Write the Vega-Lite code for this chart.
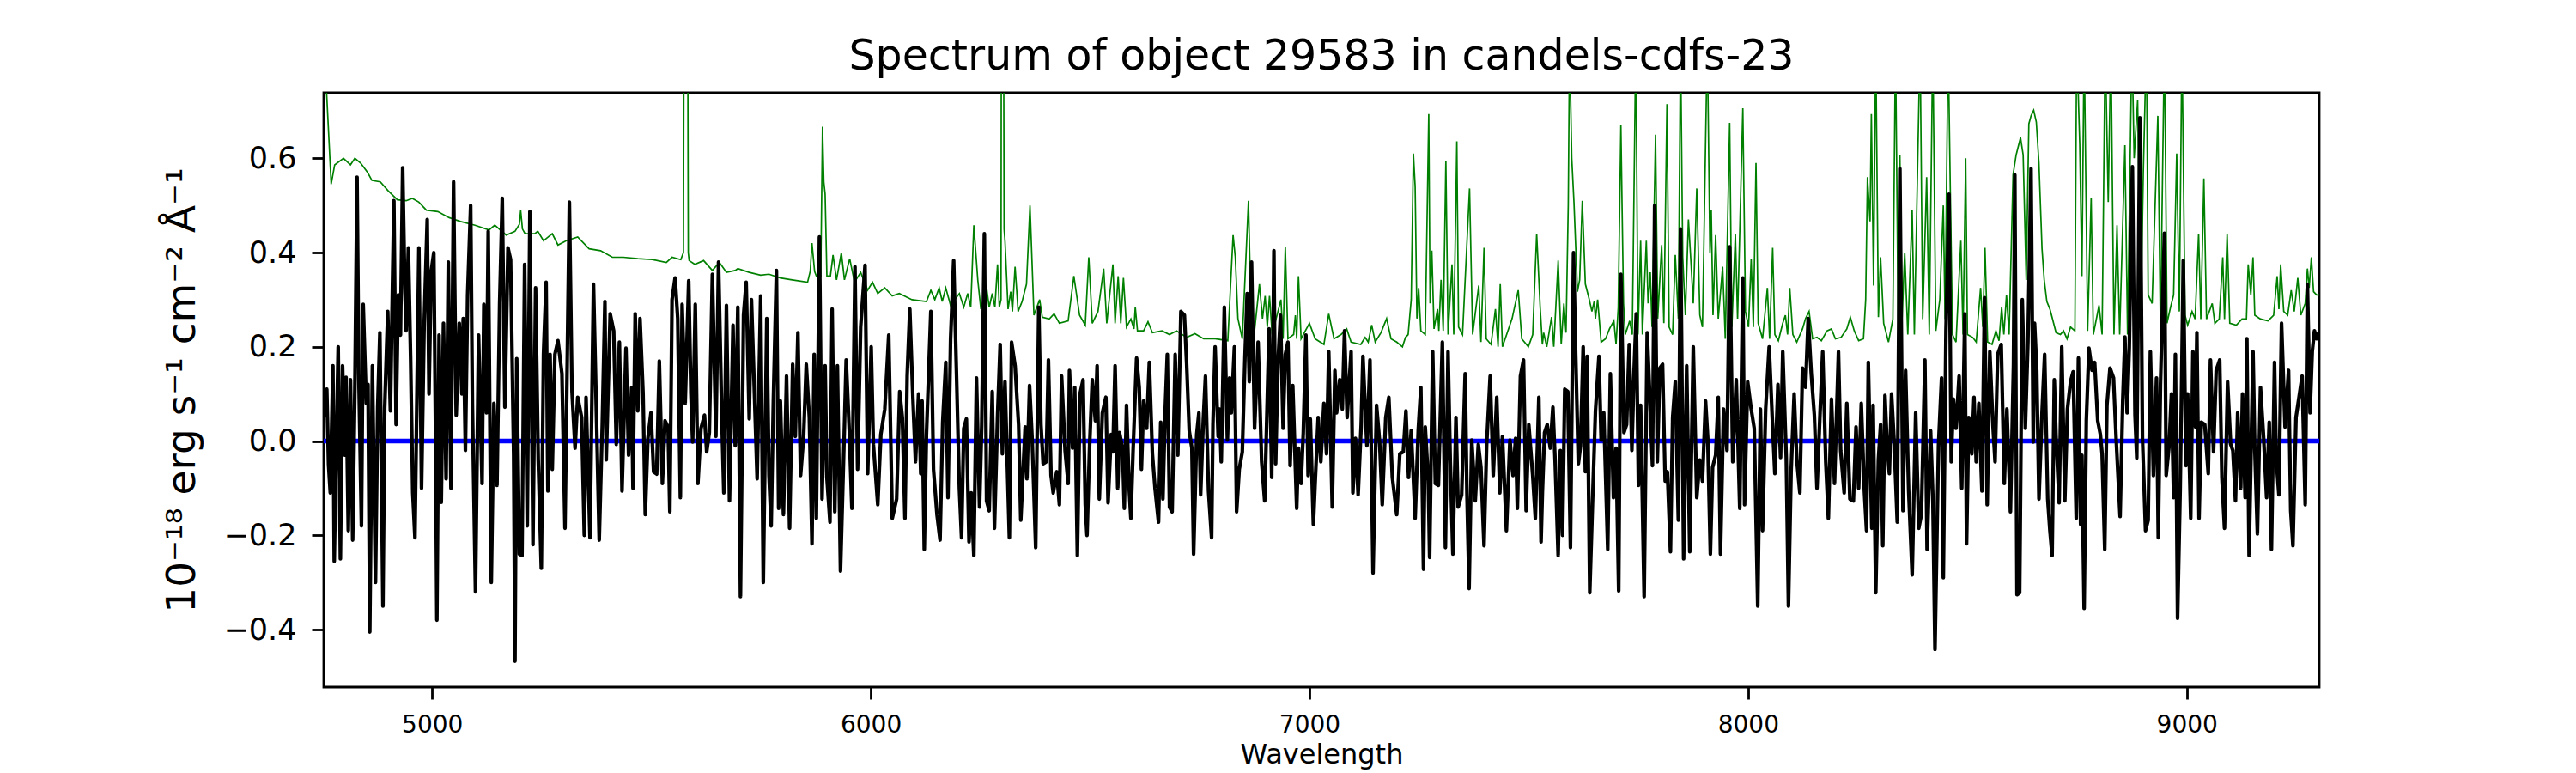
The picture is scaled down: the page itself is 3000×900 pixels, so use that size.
{
"$schema": "https://vega.github.io/schema/vega-lite/v6.json",
"width": 2324, "height": 692,
"autosize": {"type": "none"},
"padding": {"left": 377, "top": 108, "right": 299, "bottom": 100},
"background": "white",
"config": {"font": "DejaVu Sans", "view": {"stroke": "black", "strokeWidth": 2.8}},
"title": {"text": "Spectrum of object 29583 in candels-cdfs-23", "fontSize": 49, "fontWeight": "normal", "font": "DejaVu Sans", "color": "black", "baseline": "alphabetic", "offset": -22, "frame": "group", "anchor": "middle"},
"datasets": {
"zero": [{"w":4753,"f":0},{"w":9302,"f":0}],
"sky": [
{"w":4753,"f":0.95},{"w":4759,"f":0.75},{"w":4770,"f":0.545},{"w":4778,"f":0.586},{"w":4798,"f":0.6},{"w":4814,"f":0.586},{"w":4824,"f":0.6},{"w":4837,"f":0.59},{"w":4853,"f":0.57},{"w":4863,"f":0.553},{"w":4882,"f":0.55},{"w":4899,"f":0.532},{"w":4921,"f":0.512},{"w":4941,"f":0.51},{"w":4955,"f":0.515},{"w":4970,"f":0.507},{"w":4987,"f":0.49},{"w":5013,"f":0.487},{"w":5039,"f":0.474},{"w":5065,"f":0.466},{"w":5098,"f":0.458},{"w":5130,"f":0.448},{"w":5143,"f":0.458},{"w":5169,"f":0.437},{"w":5189,"f":0.445},{"w":5199,"f":0.46},{"w":5202,"f":0.489},{"w":5206,"f":0.45},{"w":5212,"f":0.44},{"w":5234,"f":0.44},{"w":5241,"f":0.445},{"w":5254,"f":0.425},{"w":5274,"f":0.44},{"w":5287,"f":0.416},{"w":5306,"f":0.425},{"w":5332,"f":0.433},{"w":5358,"f":0.408},{"w":5384,"f":0.404},{"w":5411,"f":0.39},{"w":5436,"f":0.39},{"w":5469,"f":0.387},{"w":5502,"f":0.385},{"w":5534,"f":0.379},{"w":5547,"f":0.39},{"w":5567,"f":0.385},{"w":5573,"f":0.4},{"w":5575,"f":1.2},{"w":5582,"f":1.2},{"w":5584,"f":0.4},{"w":5586,"f":0.383},{"w":5599,"f":0.375},{"w":5619,"f":0.383},{"w":5639,"f":0.362},{"w":5655,"f":0.379},{"w":5671,"f":0.358},{"w":5691,"f":0.362},
{"w":5697,"f":0.366},{"w":5723,"f":0.358},{"w":5749,"f":0.352},{"w":5768,"f":0.354},{"w":5794,"f":0.346},{"w":5821,"f":0.342},{"w":5856,"f":0.337},{"w":5862,"f":0.36},{"w":5866,"f":0.42},{"w":5872,"f":0.36},{"w":5876,"f":0.35},{"w":5886,"f":0.35},{"w":5890,"f":0.667},{"w":5893,"f":0.55},{"w":5896,"f":0.524},{"w":5900,"f":0.35},{"w":5908,"f":0.35},{"w":5914,"f":0.395},{"w":5922,"f":0.342},{"w":5933,"f":0.4},{"w":5940,"f":0.342},{"w":5952,"f":0.387},{"w":5963,"f":0.337},{"w":5977,"f":0.358},{"w":5993,"f":0.32},{"w":6004,"f":0.337},{"w":6016,"f":0.313},{"w":6032,"f":0.325},{"w":6049,"f":0.308},{"w":6065,"f":0.313},{"w":6094,"f":0.3},{"w":6127,"f":0.296},{"w":6137,"f":0.32},{"w":6146,"f":0.3},{"w":6156,"f":0.325},{"w":6163,"f":0.296},{"w":6171,"f":0.325},{"w":6182,"f":0.288},{"w":6202,"f":0.313},{"w":6212,"f":0.284},{"w":6221,"f":0.313},{"w":6228,"f":0.284},{"w":6235,"f":0.458},{"w":6244,"f":0.342},{"w":6251,"f":0.28},{"w":6264,"f":0.325},{"w":6270,"f":0.284},{"w":6277,"f":0.313},{"w":6283,"f":0.284},{"w":6289,"f":0.375},{"w":6293,"f":0.284},{"w":6297,"f":0.3},{"w":6298,"f":1.2},{"w":6302,"f":1.2},{"w":6304,"f":0.45},{"w":6306,"f":0.425},{"w":6313,"f":0.28},{"w":6319,"f":0.317},{"w":6323,"f":0.275},{"w":6329,"f":0.37},{"w":6336,"f":0.275},{"w":6345,"f":0.296},{"w":6355,"f":0.333},{"w":6363,"f":0.5},{"w":6372,"f":0.267},{"w":6385,"f":0.3},{"w":6391,"f":0.263},{"w":6407,"f":0.259},{"w":6418,"f":0.27},{"w":6430,"f":0.25},{"w":6450,"f":0.255},{"w":6463,"f":0.35},{"w":6476,"f":0.267},{"w":6489,"f":0.246},{"w":6497,"f":0.39},{"w":6505,"f":0.25},{"w":6518,"f":0.275},{"w":6531,"f":0.366},{"w":6538,"f":0.25},{"w":6552,"f":0.375},{"w":6557,"f":0.25},{"w":6564,"f":0.35},{"w":6570,"f":0.25},{"w":6576,"f":0.346},{"w":6583,"f":0.242},{"w":6593,"f":0.259},{"w":6600,"f":0.238},{"w":6603,"f":0.284},{"w":6608,"f":0.234},
{"w":6622,"f":0.234},{"w":6632,"f":0.253},{"w":6642,"f":0.23},{"w":6664,"f":0.234},{"w":6681,"f":0.226},{"w":6697,"f":0.234},{"w":6720,"f":0.22},{"w":6739,"f":0.228},{"w":6759,"f":0.217},{"w":6785,"f":0.217},{"w":6814,"f":0.213},{"w":6826,"f":0.437},{"w":6831,"f":0.39},{"w":6837,"f":0.26},{"w":6847,"f":0.217},{"w":6861,"f":0.51},{"w":6867,"f":0.267},{"w":6873,"f":0.217},{"w":6886,"f":0.333},{"w":6893,"f":0.26},{"w":6899,"f":0.308},{"w":6904,"f":0.242},{"w":6909,"f":0.308},{"w":6915,"f":0.226},{"w":6935,"f":0.3},{"w":6940,"f":0.217},{"w":6945,"f":0.412},{"w":6951,"f":0.217},{"w":6964,"f":0.226},{"w":6968,"f":0.267},{"w":6971,"f":0.217},{"w":6975,"f":0.35},{"w":6981,"f":0.217},{"w":7000,"f":0.25},{"w":7013,"f":0.217},{"w":7033,"f":0.205},{"w":7044,"f":0.27},{"w":7056,"f":0.217},{"w":7072,"f":0.226},{"w":7085,"f":0.238},{"w":7095,"f":0.21},{"w":7117,"f":0.205},{"w":7127,"f":0.22},{"w":7134,"f":0.21},{"w":7142,"f":0.246},{"w":7150,"f":0.21},{"w":7163,"f":0.23},{"w":7176,"f":0.26},{"w":7186,"f":0.217},{"w":7199,"f":0.21},{"w":7212,"f":0.2},{"w":7219,"f":0.22},{"w":7225,"f":0.226},{"w":7232,"f":0.3},{"w":7237,"f":0.61},{"w":7241,"f":0.54},{"w":7245,"f":0.26},{"w":7249,"f":0.325},{"w":7254,"f":0.234},{"w":7264,"f":0.226},{"w":7272,"f":0.694},{"w":7275,"f":0.292},{"w":7279,"f":0.404},{"w":7284,"f":0.238},{"w":7292,"f":0.28},{"w":7295,"f":0.234},{"w":7300,"f":0.342},{"w":7305,"f":0.234},{"w":7311,"f":0.594},{"w":7316,"f":0.226},{"w":7325,"f":0.375},{"w":7329,"f":0.226},{"w":7336,"f":0.636},{"w":7340,"f":0.242},{"w":7349,"f":0.226},{"w":7365,"f":0.536},{"w":7372,"f":0.226},{"w":7386,"f":0.33},{"w":7391,"f":0.21},{"w":7398,"f":0.41},{"w":7403,"f":0.217},{"w":7414,"f":0.205},{"w":7424,"f":0.28},{"w":7430,"f":0.2},{"w":7435,"f":0.333},{"w":7440,"f":0.2},{"w":7462,"f":0.26},{"w":7476,"f":0.32},{"w":7484,"f":0.217},{"w":7499,"f":0.2},{"w":7509,"f":0.226},{"w":7518,"f":0.44},{"w":7526,"f":0.284},
{"w":7531,"f":0.205},{"w":7534,"f":0.23},{"w":7541,"f":0.2},{"w":7552,"f":0.263},{"w":7557,"f":0.2},{"w":7567,"f":0.383},{"w":7574,"f":0.205},{"w":7580,"f":0.292},{"w":7585,"f":0.23},{"w":7590,"f":0.5},{"w":7593,"f":0.85},{"w":7598,"f":0.6},{"w":7603,"f":0.507},{"w":7611,"f":0.317},{"w":7616,"f":0.342},{"w":7622,"f":0.51},{"w":7629,"f":0.333},{"w":7637,"f":0.304},{"w":7644,"f":0.275},{"w":7649,"f":0.296},{"w":7652,"f":0.26},{"w":7657,"f":0.3},{"w":7665,"f":0.21},{"w":7675,"f":0.217},{"w":7684,"f":0.238},{"w":7694,"f":0.255},{"w":7699,"f":0.205},{"w":7704,"f":0.284},{"w":7710,"f":0.67},{"w":7716,"f":0.292},{"w":7720,"f":0.226},{"w":7730,"f":0.255},{"w":7736,"f":0.226},{"w":7744,"f":0.85},{"w":7749,"f":0.226},{"w":7755,"f":0.425},{"w":7759,"f":0.226},{"w":7768,"f":0.425},{"w":7772,"f":0.292},{"w":7777,"f":0.358},{"w":7781,"f":0.242},{"w":7789,"f":0.65},{"w":7794,"f":0.26},{"w":7803,"f":0.416},{"w":7808,"f":0.25},{"w":7815,"f":0.715},{"w":7820,"f":0.242},{"w":7828,"f":0.226},{"w":7834,"f":0.395},{"w":7841,"f":0.26},{"w":7846,"f":0.85},{"w":7851,"f":0.39},{"w":7857,"f":0.267},{"w":7864,"f":0.47},{"w":7870,"f":0.375},{"w":7875,"f":0.292},{"w":7883,"f":0.536},{"w":7890,"f":0.267},{"w":7896,"f":0.242},{"w":7907,"f":0.85},{"w":7913,"f":0.4},{"w":7916,"f":0.49},{"w":7920,"f":0.267},{"w":7926,"f":0.437},{"w":7932,"f":0.26},{"w":7942,"f":0.37},{"w":7948,"f":0.217},{"w":7958,"f":0.675},{"w":7963,"f":0.242},{"w":7971,"f":0.44},{"w":7976,"f":0.26},{"w":7988,"f":0.706},{"w":7994,"f":0.275},{"w":8001,"f":0.242},{"w":8007,"f":0.387},{"w":8012,"f":0.242},{"w":8018,"f":0.59},{"w":8023,"f":0.25},{"w":8033,"f":0.217},{"w":8044,"f":0.325},{"w":8049,"f":0.217},{"w":8056,"f":0.41},{"w":8061,"f":0.226},{"w":8069,"f":0.213},{"w":8079,"f":0.25},{"w":8085,"f":0.267},{"w":8090,"f":0.226},{"w":8095,"f":0.325},{"w":8102,"f":0.226},{"w":8111,"f":0.21},{"w":8124,"f":0.238},{"w":8131,"f":0.26},{"w":8139,"f":0.275},{"w":8147,"f":0.217},{"w":8157,"f":0.22},{"w":8167,"f":0.213},{"w":8180,"f":0.234},{"w":8190,"f":0.238},{"w":8199,"f":0.217},{"w":8212,"f":0.22},{"w":8225,"f":0.238},{"w":8233,"f":0.263},{"w":8242,"f":0.234},{"w":8252,"f":0.213},{"w":8263,"f":0.217},{"w":8268,"f":0.3},{"w":8272,"f":0.56},{"w":8278,"f":0.466},{"w":8281,"f":0.694},{"w":8286,"f":0.33},{"w":8291,"f":0.85},{"w":8297,"f":0.263},{"w":8302,"f":0.39},{"w":8309,"f":0.25},{"w":8320,"f":0.21},{"w":8330,"f":0.259},{"w":8336,"f":0.85},{"w":8342,"f":0.259},{"w":8346,"f":0.607},{"w":8351,"f":0.259},{"w":8357,"f":0.4},{"w":8364,"f":0.226},{"w":8374,"f":0.49},{"w":8379,"f":0.226},{"w":8392,"f":0.85},{"w":8398,"f":0.259},{"w":8407,"f":0.56},{"w":8413,"f":0.226},{"w":8421,"f":0.85},{"w":8428,"f":0.234},{"w":8437,"f":0.3},{"w":8445,"f":0.5},
{"w":8449,"f":0.259},{"w":8456,"f":0.85},{"w":8461,"f":0.53},{"w":8466,"f":0.226},{"w":8474,"f":0.21},{"w":8485,"f":0.425},{"w":8490,"f":0.226},{"w":8496,"f":0.6},{"w":8500,"f":0.226},{"w":8512,"f":0.22},{"w":8520,"f":0.21},{"w":8530,"f":0.325},{"w":8535,"f":0.242},{"w":8540,"f":0.41},{"w":8546,"f":0.21},{"w":8556,"f":0.205},{"w":8565,"f":0.234},{"w":8572,"f":0.213},{"w":8578,"f":0.284},{"w":8583,"f":0.226},{"w":8589,"f":0.31},{"w":8595,"f":0.226},{"w":8604,"f":0.565},{"w":8611,"f":0.607},{"w":8621,"f":0.644},{"w":8627,"f":0.607},{"w":8634,"f":0.342},{"w":8640,"f":0.673},{"w":8645,"f":0.69},{"w":8651,"f":0.702},{"w":8657,"f":0.677},{"w":8663,"f":0.59},{"w":8670,"f":0.408},{"w":8675,"f":0.342},{"w":8681,"f":0.296},{"w":8688,"f":0.28},{"w":8694,"f":0.259},{"w":8702,"f":0.23},{"w":8712,"f":0.226},{"w":8719,"f":0.234},{"w":8727,"f":0.217},{"w":8735,"f":0.242},{"w":8745,"f":0.234},{"w":8749,"f":0.85},{"w":8756,"f":0.63},{"w":8761,"f":0.35},{"w":8766,"f":0.85},{"w":8774,"f":0.234},{"w":8782,"f":0.516},{"w":8787,"f":0.226},{"w":8800,"f":0.288},{"w":8807,"f":0.226},{"w":8814,"f":0.85},{"w":8821,"f":0.507},{"w":8827,"f":0.85},{"w":8834,"f":0.226},{"w":8841,"f":0.458},{"w":8847,"f":0.226},{"w":8859,"f":0.628},{"w":8865,"f":0.226},{"w":8875,"f":0.85},{"w":8880,"f":0.6},{"w":8888,"f":0.723},{"w":8895,"f":0.259},{"w":8901,"f":0.574},{"w":8908,"f":0.85},{"w":8912,"f":0.31},{"w":8921,"f":0.292},{"w":8934,"f":0.69},{"w":8940,"f":0.242},{"w":8949,"f":0.85},{"w":8955,"f":0.25},{"w":8963,"f":0.284},{"w":8970,"f":0.31},{"w":8977,"f":0.61},{"w":8983,"f":0.275},{"w":8989,"f":0.85},{"w":8996,"f":0.267},{"w":9002,"f":0.246},{"w":9012,"f":0.275},{"w":9019,"f":0.259},{"w":9027,"f":0.44},{"w":9032,"f":0.259},{"w":9039,"f":0.557},{"w":9045,"f":0.259},{"w":9058,"f":0.292},{"w":9064,"f":0.25},{"w":9074,"f":0.259},{"w":9082,"f":0.39},{"w":9086,"f":0.259},{"w":9092,"f":0.44},{"w":9098,"f":0.25},{"w":9113,"f":0.246},{"w":9126,"f":0.259},{"w":9136,"f":0.259},{"w":9140,"f":0.375},{"w":9146,"f":0.31},{"w":9151,"f":0.39},{"w":9155,"f":0.267},{"w":9168,"f":0.259},{"w":9185,"f":0.255},{"w":9198,"f":0.267},{"w":9206,"f":0.35},{"w":9210,"f":0.28},{"w":9214,"f":0.375},{"w":9221,"f":0.275},{"w":9230,"f":0.267},{"w":9238,"f":0.32},{"w":9245,"f":0.275},{"w":9253,"f":0.346},{"w":9260,"f":0.267},{"w":9270,"f":0.292},{"w":9275,"f":0.366},{"w":9279,"f":0.325},{"w":9284,"f":0.39},{"w":9289,"f":0.317},{"w":9296,"f":0.31},{"w":9302,"f":0.31}
],
"flux": [
{"w":4753,"f":0.05},{"w":4755,"f":0.07},{"w":4760,"f":0.11},{"w":4764,"f":-0.05},{"w":4768,"f":-0.11},{"w":4774,"f":0.16},{"w":4777,"f":-0.255},{"w":4781,"f":-0.04},{"w":4786,"f":0.2},{"w":4791,"f":-0.25},{"w":4796,"f":0.16},{"w":4801,"f":-0.03},{"w":4804,"f":0.135},{"w":4809,"f":-0.19},{"w":4814,"f":0.13},{"w":4819,"f":-0.21},{"w":4824,"f":0.11},{"w":4829,"f":0.56},{"w":4833,"f":0.14},{"w":4839,"f":-0.18},{"w":4843,"f":0.29},{"w":4850,"f":0.08},{"w":4854,"f":0.12},{"w":4858,"f":-0.405},{"w":4864,"f":0.16},{"w":4871,"f":-0.3},{"w":4876,"f":0.07},{"w":4881,"f":0.23},{"w":4888,"f":-0.35},{"w":4892,"f":0.07},{"w":4899,"f":0.275},{"w":4905,"f":0.064},{"w":4913,"f":0.51},{"w":4918,"f":0.035},{"w":4923,"f":0.31},{"w":4928,"f":0.225},{"w":4933,"f":0.58},{"w":4938,"f":0.32},{"w":4941,"f":0.234},{"w":4946,"f":0.41},{"w":4951,"f":0.18},{"w":4956,"f":-0.11},{"w":4961,"f":-0.205},{"w":4970,"f":0.41},{"w":4976,"f":-0.1},{"w":4982,"f":0.25},{"w":4989,"f":0.47},{"w":4993,"f":0.1},{"w":4998,"f":0.36},{"w":5004,"f":0.4},{"w":5008,"f":0.01},{"w":5011,"f":-0.38},{"w":5016,"f":0.225},{"w":5021,"f":-0.13},{"w":5026,"f":0.25},{"w":5032,"f":-0.08},{"w":5037,"f":0.38},{"w":5043,"f":-0.1},{"w":5049,"f":0.55},{"w":5055,"f":0.055},{"w":5062,"f":0.25},{"w":5068,"f":0.1},{"w":5071,"f":0.26},{"w":5076,"f":-0.02},{"w":5081,"f":0.31},{"w":5088,"f":0.5},{"w":5092,"f":0.076},{"w":5099,"f":-0.32},{"w":5106,"f":0.225},{"w":5114,"f":-0.09},{"w":5118,"f":0.29},{"w":5124,"f":0.06},{"w":5128,"f":0.445},{"w":5135,"f":-0.3},{"w":5141,"f":0.08},{"w":5148,"f":-0.094},{"w":5154,"f":0.29},{"w":5160,"f":0.515},{"w":5166,"f":0.072},{"w":5173,"f":0.41},{"w":5179,"f":0.385},{"w":5186,"f":-0.03},{"w":5189,"f":-0.467},{"w":5193,"f":0.175},{"w":5199,"f":-0.24},{"w":5205,"f":-0.243},{"w":5211,"f":0.375},{"w":5217,"f":-0.18},{"w":5223,"f":0.487},{"w":5230,"f":-0.22},{"w":5236,"f":0.325},{"w":5242,"f":-0.04},{"w":5249,"f":-0.27},{"w":5254,"f":0.184},{"w":5260,"f":0.337},{"w":5264,"f":-0.106},{"w":5269,"f":0.184},{"w":5274,"f":-0.06},{"w":5280,"f":0.184},{"w":5287,"f":0.213},{"w":5296,"f":0.143},{"w":5303,"f":-0.185},{"w":5313,"f":0.507},{"w":5319,"f":0.105},{"w":5326,"f":-0.015},{"w":5332,"f":0.093},{"w":5341,"f":0.05},{"w":5347,"f":-0.2},{"w":5351,"f":0.093},{"w":5360,"f":-0.205},{"w":5368,"f":0.333},{"w":5375,"f":0.043},{"w":5381,"f":-0.21},{"w":5388,"f":0.035},{"w":5394,"f":0.296},{"w":5397,"f":-0.04},{"w":5406,"f":0.27},{"w":5414,"f":0.234},{"w":5420,"f":-0.007},{"w":5427,"f":0.21},{"w":5433,"f":-0.106},{"w":5442,"f":0.197},{"w":5448,"f":-0.03},{"w":5455,"f":0.114},{"w":5458,"f":-0.1},{"w":5463,"f":0.27},{"w":5469,"f":0.064},{"w":5474,"f":0.26},{"w":5481,"f":0.1},{"w":5486,"f":-0.156},{"w":5492,"f":0.006},{"w":5499,"f":0.06},{"w":5505,"f":-0.065},{"w":5512,"f":-0.07},{"w":5518,"f":0.17},{"w":5525,"f":-0.09},{"w":5531,"f":0.043},{"w":5538,"f":0.03},{"w":5542,"f":-0.15},{"w":5547,"f":0.3},{"w":5554,"f":0.346},{"w":5560,"f":0.26},{"w":5566,"f":-0.12},{"w":5570,"f":0.29},{"w":5577,"f":0.08},{"w":5585,"f":0.34},{"w":5590,"f":0.1},{"w":5594,"f":-0.002},{"w":5600,"f":0.29},{"w":5606,"f":-0.09},{"w":5613,"f":0.027},{"w":5621,"f":0.055},{"w":5626,"f":-0.023},{"w":5632,"f":0.018},{"w":5639,"f":0.354},{"w":5647,"f":0.01},{"w":5653,"f":0.38},{"w":5660,"f":0.07},{"w":5665,"f":-0.11},{"w":5671,"f":0.288},{"w":5678,"f":-0.127},{"w":5686,"f":0.246},{"w":5691,"f":-0.01},
{"w":5697,"f":0.284},{"w":5703,"f":-0.33},{"w":5710,"f":0.267},{"w":5716,"f":0.337},{"w":5723,"f":0.047},{"w":5728,"f":0.3},{"w":5734,"f":0.126},{"w":5741,"f":-0.08},{"w":5749,"f":0.308},{"w":5755,"f":-0.3},{"w":5763,"f":0.26},{"w":5768,"f":-0.073},{"w":5773,"f":-0.18},{"w":5778,"f":0.085},{"w":5785,"f":0.362},{"w":5790,"f":-0.143},{"w":5794,"f":0.085},{"w":5801,"f":-0.156},{"w":5808,"f":0.138},{"w":5815,"f":-0.185},{"w":5822,"f":0.163},{"w":5828,"f":0.01},{"w":5834,"f":0.23},{"w":5840,"f":-0.073},{"w":5847,"f":0.01},{"w":5853,"f":0.163},{"w":5860,"f":0.05},{"w":5866,"f":-0.218},{"w":5871,"f":0.184},{"w":5876,"f":-0.164},{"w":5883,"f":0.433},{"w":5889,"f":-0.123},{"w":5896,"f":0.16},{"w":5900,"f":-0.077},{"w":5907,"f":-0.172},{"w":5912,"f":0.28},{"w":5918,"f":-0.15},{"w":5924,"f":0.16},{"w":5931,"f":-0.276},{"w":5938,"f":-0.04},{"w":5944,"f":0.172},{"w":5951,"f":0.022},{"w":5957,"f":-0.143},{"w":5964,"f":0.37},{"w":5970,"f":-0.06},{"w":5977,"f":0.242},{"w":5987,"f":0.373},{"w":5993,"f":-0.069},{"w":6001,"f":0.2},{"w":6006,"f":-0.007},{"w":6016,"f":-0.135},{"w":6023,"f":0.014},{"w":6032,"f":0.068},{"w":6041,"f":0.225},{"w":6049,"f":-0.164},{"w":6059,"f":-0.123},{"w":6066,"f":0.105},{"w":6072,"f":0.05},{"w":6078,"f":-0.164},{"w":6083,"f":0.138},{"w":6089,"f":0.28},{"w":6096,"f":0.093},{"w":6102,"f":-0.044},{"w":6109,"f":0.1},{"w":6114,"f":-0.069},{"w":6117,"f":0.085},{"w":6122,"f":-0.23},{"w":6127,"f":0.014},{"w":6137,"f":0.275},{"w":6143,"f":-0.06},{"w":6151,"f":-0.156},{"w":6158,"f":-0.21},{"w":6164,"f":0.04},{"w":6171,"f":0.167},{"w":6176,"f":-0.12},{"w":6182,"f":0.217},{"w":6189,"f":0.383},{"w":6195,"f":0.16},{"w":6202,"f":-0.1},{"w":6207,"f":-0.205},{"w":6212,"f":0.027},{"w":6218,"f":0.047},{"w":6224,"f":-0.214},{"w":6229,"f":-0.11},{"w":6235,"f":-0.243},{"w":6241,"f":0.134},{"w":6248,"f":-0.14},{"w":6253,"f":0.035},{"w":6259,"f":0.44},{"w":6264,"f":-0.127},{"w":6270,"f":-0.148},{"w":6277,"f":0.105},{"w":6282,"f":-0.185},{"w":6289,"f":0.05},{"w":6295,"f":0.205},{"w":6300,"f":-0.027},{"w":6306,"f":0.126},{"w":6316,"f":-0.205},{"w":6321,"f":0.21},{"w":6329,"f":0.16},{"w":6337,"f":0.035},{"w":6342,"f":-0.168},{"w":6352,"f":0.03},{"w":6356,"f":-0.08},{"w":6362,"f":0.118},{"w":6368,"f":0.002},{"w":6376,"f":-0.226},{"w":6383,"f":0.284},{"w":6388,"f":0.035},{"w":6393,"f":-0.048},{"w":6400,"f":-0.044},{"w":6405,"f":0.172},{"w":6411,"f":-0.073},{"w":6416,"f":-0.11},{"w":6424,"f":-0.065},{"w":6430,"f":-0.135},{"w":6435,"f":0.138},{"w":6443,"f":-0.02},{"w":6450,"f":-0.09},{"w":6453,"f":0.15},{"w":6460,"f":-0.015},{"w":6465,"f":0.114},{"w":6471,"f":-0.243},{"w":6477,"f":0.1},{"w":6484,"f":0.13},{"w":6489,"f":-0.135},{"w":6493,"f":-0.2},{"w":6499,"f":-0.007},{"w":6505,"f":0.13},{"w":6512,"f":0.043},{"w":6516,"f":0.16},{"w":6521,"f":-0.123},{"w":6528,"f":0.06},{"w":6536,"f":0.093},{"w":6541,"f":-0.131},{"w":6548,"f":0.014},{"w":6552,"f":-0.023},{"w":6557,"f":0.16},{"w":6563,"f":-0.1},{"w":6567,"f":0.018},{"w":6574,"f":-0.015},{"w":6578,"f":-0.143},{"w":6583,"f":0.076},{"w":6589,"f":-0.1},{"w":6593,"f":-0.164},{"w":6598,"f":-0.02},{"w":6606,"f":0.176},
{"w":6612,"f":0.114},{"w":6617,"f":-0.06},{"w":6622,"f":0.085},{"w":6629,"f":0.027},{"w":6635,"f":0.167},{"w":6642,"f":-0.027},{"w":6648,"f":-0.1},{"w":6656,"f":-0.172},{"w":6661,"f":0.04},{"w":6666,"f":-0.123},{"w":6671,"f":0.06},{"w":6676,"f":0.184},{"w":6681,"f":-0.14},{"w":6687,"f":-0.15},{"w":6694,"f":0.184},{"w":6700,"f":-0.03},{"w":6707,"f":0.275},{"w":6715,"f":0.267},{"w":6720,"f":0.167},{"w":6726,"f":0.022},{"w":6732,"f":-0.015},{"w":6736,"f":-0.24},{"w":6743,"f":0.014},{"w":6748,"f":0.06},{"w":6752,"f":-0.114},{"w":6758,"f":0.043},{"w":6763,"f":0.138},{"w":6770,"f":-0.106},{"w":6777,"f":-0.205},{"w":6780,"f":0.035},{"w":6785,"f":0.2},{"w":6792,"f":0.01},{"w":6795,"f":0.068},{"w":6799,"f":-0.044},{"w":6806,"f":0.284},{"w":6813,"f":0.002},{"w":6818,"f":0.134},{"w":6822,"f":0.06},{"w":6829,"f":0.2},{"w":6834,"f":-0.15},{"w":6840,"f":-0.06},{"w":6847,"f":-0.023},{"w":6853,"f":0.176},{"w":6858,"f":0.313},{"w":6863,"f":0.126},{"w":6868,"f":0.38},{"w":6875,"f":0.027},{"w":6883,"f":0.21},{"w":6891,"f":-0.044},{"w":6898,"f":-0.127},{"w":6908,"f":0.238},{"w":6914,"f":-0.077},{"w":6919,"f":0.404},{"w":6923,"f":-0.048},{"w":6928,"f":0.16},{"w":6934,"f":0.267},{"w":6940,"f":0.027},{"w":6945,"f":0.184},{"w":6951,"f":0.21},{"w":6956,"f":-0.052},{"w":6962,"f":0.118},{"w":6971,"f":-0.143},{"w":6975,"f":-0.015},{"w":6981,"f":-0.09},{"w":6986,"f":0.018},{"w":6992,"f":0.225},{"w":6997,"f":-0.073},{"w":7002,"f":0.047},{"w":7009,"f":-0.177},{"w":7013,"f":-0.09},{"w":7020,"f":0.05},{"w":7026,"f":-0.044},{"w":7033,"f":0.08},{"w":7039,"f":-0.027},{"w":7044,"f":0.19},{"w":7052,"f":-0.14},{"w":7058,"f":0.15},{"w":7062,"f":0.06},{"w":7069,"f":0.13},{"w":7075,"f":0.068},{"w":7080,"f":0.234},{"w":7086,"f":0.05},{"w":7095,"f":0.19},{"w":7099,"f":-0.11},{"w":7105,"f":0.006},{"w":7111,"f":-0.114},{"w":7118,"f":0.035},{"w":7122,"f":0.18},{"w":7131,"f":-0.01},{"w":7138,"f":0.172},{"w":7145,"f":-0.28},{"w":7153,"f":0.076},{"w":7160,"f":-0.002},{"w":7166,"f":-0.135},{"w":7174,"f":0.05},{"w":7181,"f":0.093},{"w":7189,"f":-0.077},{"w":7199,"f":-0.156},{"w":7206,"f":-0.027},{"w":7214,"f":-0.023},{"w":7220,"f":0.064},{"w":7226,"f":-0.077},{"w":7232,"f":0.022},{"w":7241,"f":-0.164},{"w":7248,"f":0.022},{"w":7254,"f":0.114},{"w":7260,"f":-0.272},{"w":7264,"f":0.03},{"w":7271,"f":-0.085},{"w":7274,"f":-0.247},{"w":7281,"f":0.19},{"w":7287,"f":-0.09},{"w":7294,"f":-0.094},{"w":7303,"f":0.21},{"w":7310,"f":-0.226},{"w":7316,"f":0.19},{"w":7321,"f":-0.04},{"w":7327,"f":-0.24},{"w":7334,"f":0.05},{"w":7339,"f":-0.14},{"w":7347,"f":-0.114},{"w":7355,"f":0.143},{"w":7359,"f":-0.11},{"w":7364,"f":-0.313},{"w":7370,"f":0.002},{"w":7378,"f":-0.127},{"w":7385,"f":-0.007},{"w":7391,"f":-0.056},{"w":7398,"f":-0.222},{"w":7404,"f":-0.007},{"w":7412,"f":0.138},{"w":7419,"f":-0.073},{"w":7427,"f":0.093},{"w":7434,"f":-0.11},{"w":7440,"f":0.01},{"w":7449,"f":-0.19},{"w":7457,"f":0.002},{"w":7464,"f":-0.073},{"w":7470,"f":0.006},{"w":7474,"f":-0.143},{"w":7481,"f":0.138},{"w":7488,"f":0.172},{"w":7494,"f":-0.148},{"w":7500,"f":0.035},{"w":7509,"f":-0.073},{"w":7515,"f":-0.164},{"w":7523,"f":0.093},{"w":7528,"f":-0.214},
{"w":7531,"f":-0.11},{"w":7536,"f":0.018},{"w":7542,"f":0.035},{"w":7549,"f":-0.015},{"w":7555,"f":0.072},{"w":7560,"f":-0.04},{"w":7567,"f":-0.243},{"w":7572,"f":-0.02},{"w":7577,"f":-0.2},{"w":7582,"f":0.11},{"w":7589,"f":0.105},{"w":7595,"f":-0.226},{"w":7602,"f":0.4},{"w":7607,"f":0.184},{"w":7613,"f":-0.048},{"w":7618,"f":-0.01},{"w":7624,"f":0.2},{"w":7629,"f":-0.065},{"w":7633,"f":0.18},{"w":7639,"f":-0.322},{"w":7645,"f":-0.14},{"w":7652,"f":0.064},{"w":7660,"f":0.18},{"w":7665,"f":0.002},{"w":7671,"f":0.06},{"w":7680,"f":-0.23},{"w":7686,"f":0.143},{"w":7693,"f":-0.12},{"w":7699,"f":-0.015},{"w":7705,"f":-0.318},{"w":7710,"f":0.354},{"w":7717,"f":0.018},{"w":7723,"f":0.035},{"w":7729,"f":0.205},{"w":7735,"f":-0.02},{"w":7740,"f":0.147},{"w":7745,"f":0.27},{"w":7750,"f":-0.094},{"w":7755,"f":0.076},{"w":7763,"f":-0.33},{"w":7770,"f":0.23},{"w":7776,"f":0.093},{"w":7782,"f":-0.052},{"w":7787,"f":0.5},{"w":7793,"f":-0.044},{"w":7799,"f":0.155},{"w":7805,"f":0.163},{"w":7811,"f":-0.085},{"w":7816,"f":-0.065},{"w":7823,"f":-0.235},{"w":7828,"f":0.05},{"w":7834,"f":0.126},{"w":7841,"f":-0.168},{"w":7846,"f":0.45},{"w":7853,"f":-0.25},{"w":7860,"f":0.16},{"w":7867,"f":-0.235},{"w":7875,"f":0.2},{"w":7883,"f":-0.12},{"w":7890,"f":-0.04},{"w":7896,"f":-0.085},{"w":7903,"f":0.085},{"w":7908,"f":0.006},{"w":7914,"f":-0.24},{"w":7919,"f":-0.056},{"w":7926,"f":-0.03},{"w":7932,"f":0.093},{"w":7937,"f":-0.24},{"w":7944,"f":0.068},{"w":7952,"f":-0.02},{"w":7958,"f":0.412},{"w":7965,"f":-0.044},{"w":7973,"f":0.13},{"w":7981,"f":-0.143},{"w":7988,"f":0.346},{"w":7992,"f":-0.135},{"w":7999,"f":0.126},{"w":8007,"f":0.068},{"w":8014,"f":0.027},{"w":8022,"f":-0.35},{"w":8028,"f":0.068},{"w":8033,"f":-0.19},{"w":8040,"f":0.068},{"w":8048,"f":0.2},{"w":8055,"f":0.05},{"w":8061,"f":-0.069},{"w":8068,"f":0.12},{"w":8074,"f":-0.035},{"w":8079,"f":0.19},{"w":8087,"f":-0.035},{"w":8092,"f":-0.35},{"w":8098,"f":-0.065},{"w":8105,"f":0.1},{"w":8111,"f":-0.04},{"w":8118,"f":-0.11},{"w":8124,"f":0.155},{"w":8131,"f":0.114},{"w":8137,"f":0.26},{"w":8144,"f":0.143},{"w":8151,"f":0.055},{"w":8157,"f":-0.1},{"w":8164,"f":0.06},{"w":8170,"f":0.19},{"w":8177,"f":-0.044},{"w":8183,"f":-0.164},{"w":8190,"f":0.089},{"w":8197,"f":-0.09},{"w":8206,"f":0.19},{"w":8211,"f":-0.02},{"w":8219,"f":-0.11},{"w":8225,"f":0.08},{"w":8232,"f":-0.123},{"w":8240,"f":-0.127},{"w":8246,"f":0.03},{"w":8252,"f":-0.1},{"w":8258,"f":0.08},{"w":8265,"f":-0.106},{"w":8270,"f":-0.19},{"w":8274,"f":0.167},{"w":8282,"f":-0.185},{"w":8285,"f":0.076},{"w":8291,"f":-0.322},{"w":8297,"f":-0.04},{"w":8302,"f":0.035},{"w":8307,"f":-0.222},{"w":8312,"f":0.097},{"w":8317,"f":-0.01},{"w":8322,"f":-0.069},{"w":8327,"f":0.1},{"w":8333,"f":-0.003},{"w":8340,"f":-0.172},{"w":8346,"f":0.578},{"w":8353,"f":-0.148},{"w":8359,"f":0.15},{"w":8366,"f":-0.106},{"w":8374,"f":-0.284},{"w":8382,"f":0.06},{"w":8389,"f":-0.185},{"w":8395,"f":-0.156},{"w":8403,"f":0.172},{"w":8408,"f":-0.23},{"w":8416,"f":0.022},{"w":8421,"f":-0.114},{"w":8426,"f":-0.442},{"w":8434,"f":-0.01},{"w":8441,"f":0.134},
{"w":8445,"f":-0.29},{"w":8451,"f":0.234},{"w":8458,"f":0.524},{"w":8463,"f":-0.044},{"w":8468,"f":0.089},{"w":8474,"f":0.027},{"w":8481,"f":0.138},{"w":8487,"f":-0.1},{"w":8494,"f":0.27},{"w":8498,"f":-0.218},{"w":8503,"f":0.05},{"w":8510,"f":-0.027},{"w":8515,"f":0.093},{"w":8520,"f":-0.044},{"w":8526,"f":0.08},{"w":8533,"f":-0.106},{"w":8539,"f":0.304},{"w":8545,"f":-0.135},{"w":8551,"f":0.19},{"w":8558,"f":0.035},{"w":8563,"f":-0.044},{"w":8569,"f":0.184},{"w":8577,"f":0.205},{"w":8584,"f":-0.09},{"w":8590,"f":0.068},{"w":8598,"f":-0.15},{"w":8605,"f":0.163},{"w":8608,"f":0.565},{"w":8613,"f":-0.326},{"w":8619,"f":-0.322},{"w":8625,"f":0.3},{"w":8632,"f":0.027},{"w":8638,"f":0.213},{"w":8645,"f":0.578},{"w":8650,"f":-0.002},{"w":8653,"f":0.25},{"w":8658,"f":0.15},{"w":8663,"f":-0.123},{"w":8670,"f":0.06},{"w":8676,"f":0.184},{"w":8683,"f":-0.123},{"w":8688,"f":-0.19},{"w":8693,"f":-0.243},{"w":8698,"f":0.13},{"w":8702,"f":0.01},{"w":8709,"f":-0.131},{"w":8715,"f":0.2},{"w":8722,"f":-0.127},{"w":8728,"f":0.068},{"w":8735,"f":0.126},{"w":8741,"f":0.147},{"w":8748,"f":-0.164},{"w":8753,"f":0.176},{"w":8758,"f":-0.177},{"w":8761,"f":-0.03},{"w":8766,"f":-0.355},{"w":8771,"f":0.043},{"w":8777,"f":0.197},{"w":8784,"f":0.15},{"w":8790,"f":0.167},{"w":8797,"f":0.043},{"w":8803,"f":0.014},{"w":8807,"f":-0.027},{"w":8813,"f":-0.23},{"w":8818,"f":0.076},{"w":8825,"f":0.155},{"w":8833,"f":0.134},{"w":8839,"f":0.005},{"w":8848,"f":-0.16},{"w":8854,"f":0.085},{"w":8859,"f":0.221},{"w":8864,"f":0.06},{"w":8869,"f":0.2},{"w":8876,"f":0.582},{"w":8882,"f":0.055},{"w":8886,"f":-0.036},{"w":8893,"f":0.686},{"w":8899,"f":0.005},{"w":8906,"f":-0.19},{"w":8912,"f":-0.168},{"w":8917,"f":0.19},{"w":8924,"f":-0.073},{"w":8931,"f":0.134},{"w":8935,"f":-0.205},{"w":8940,"f":0.118},{"w":8949,"f":0.441},{"w":8953,"f":-0.073},{"w":8960,"f":-0.007},{"w":8965,"f":0.1},{"w":8970,"f":-0.12},{"w":8974,"f":0.184},{"w":8979,"f":-0.376},{"w":8985,"f":-0.1},{"w":8992,"f":0.383},{"w":8998,"f":-0.052},{"w":9002,"f":0.1},{"w":9009,"f":-0.164},{"w":9014,"f":0.19},{"w":9020,"f":0.03},{"w":9023,"f":0.23},{"w":9028,"f":-0.164},{"w":9033,"f":0.04},{"w":9041,"f":0.035},{"w":9049,"f":-0.069},{"w":9054,"f":0.172},{"w":9061,"f":-0.023},{"w":9067,"f":0.15},{"w":9075,"f":0.172},{"w":9080,"f":-0.077},{"w":9086,"f":-0.185},{"w":9093,"f":0.126},{"w":9100,"f":-0.007},{"w":9105,"f":-0.02},{"w":9111,"f":-0.127},{"w":9116,"f":0.06},{"w":9123,"f":-0.1},{"w":9127,"f":0.1},{"w":9133,"f":-0.12},{"w":9137,"f":0.217},{"w":9142,"f":-0.243},{"w":9151,"f":0.19},{"w":9155,"f":-0.015},{"w":9161,"f":-0.197},{"w":9168,"f":0.114},{"w":9175,"f":0.01},{"w":9182,"f":-0.12},{"w":9188,"f":0.04},{"w":9193,"f":-0.23},{"w":9200,"f":0.167},{"w":9204,"f":-0.04},{"w":9210,"f":-0.114},{"w":9216,"f":0.25},{"w":9224,"f":0.03},{"w":9232,"f":0.15},{"w":9237,"f":-0.148},{"w":9242,"f":-0.222},{"w":9249,"f":0.05},{"w":9257,"f":0.1},{"w":9263,"f":0.138},{"w":9270,"f":-0.135},{"w":9275,"f":0.333},{"w":9281,"f":0.06},{"w":9286,"f":0.19},{"w":9291,"f":0.234},{"w":9296,"f":0.217},{"w":9301,"f":0.23}
]
},
"layer": [
{"data": {"name": "sky"},
 "mark": {"type": "line", "color": "#008000", "strokeWidth": 1.7, "clip": true},
 "encoding": {
  "x": {"field": "w", "type": "quantitative", "scale": {"domain": [4753, 9302], "nice": false, "zero": false},
   "axis": {"title": "Wavelength", "values": [5000, 6000, 7000, 8000, 9000], "format": "d", "labelFontSize": 28, "titleFontSize": 32, "titleFontWeight": "normal", "labelColor": "black", "titleColor": "black", "tickColor": "black", "tickWidth": 2.8, "tickSize": 14, "labelPadding": 16, "titlePadding": 5, "domain": false, "grid": false, "labelFont": "DejaVu Sans", "titleFont": "DejaVu Sans"}},
  "y": {"field": "f", "type": "quantitative", "scale": {"domain": [-0.522, 0.739], "nice": false, "zero": false},
   "axis": {"title": "10⁻¹⁸ erg s⁻¹ cm⁻² Å⁻¹", "values": [-0.4, -0.2, 0, 0.2, 0.4, 0.6], "format": ".1f", "labelFontSize": 35, "titleFontSize": 47, "titleFontWeight": "normal", "labelColor": "black", "titleColor": "black", "tickColor": "black", "tickWidth": 2.8, "tickSize": 14, "labelPadding": 18, "titlePadding": 24, "domain": false, "grid": false, "labelFont": "DejaVu Sans", "titleFont": "DejaVu Sans"}}
 }},
{"data": {"name": "zero"},
 "mark": {"type": "line", "color": "#0000ff", "strokeWidth": 5.6},
 "encoding": {"x": {"field": "w", "type": "quantitative"}, "y": {"field": "f", "type": "quantitative"}}},
{"data": {"name": "flux"},
 "mark": {"type": "line", "color": "#000000", "strokeWidth": 4.2, "strokeJoin": "round", "clip": true},
 "encoding": {"x": {"field": "w", "type": "quantitative"}, "y": {"field": "f", "type": "quantitative"}}}
]
}
